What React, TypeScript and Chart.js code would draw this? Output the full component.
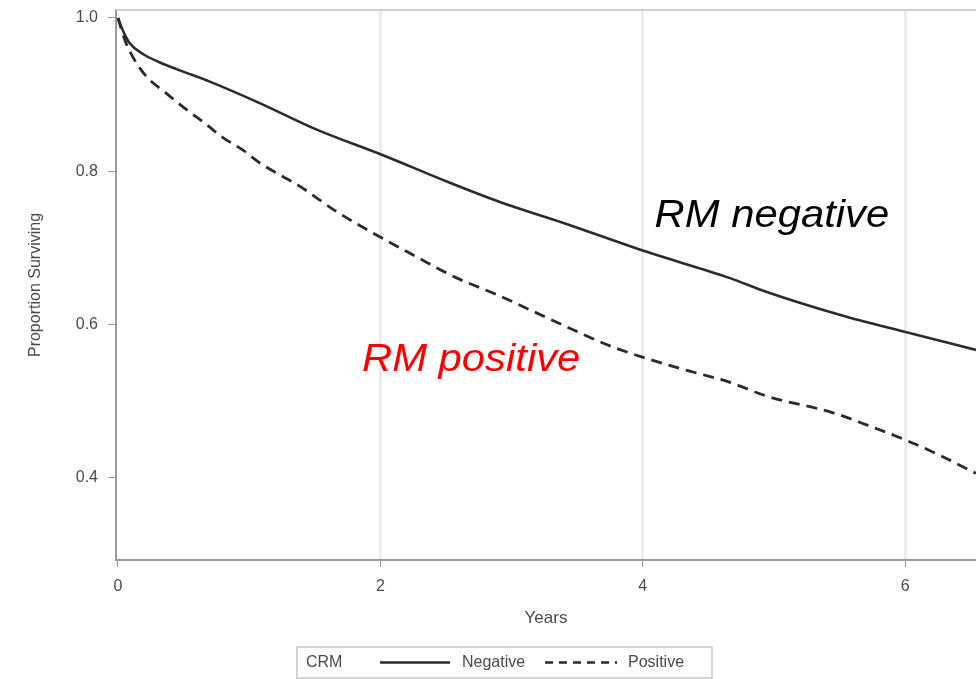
import React, { useEffect, useRef } from "react";
import { Chart, registerables } from "chart.js";

Chart.register(...registerables);

// ---- data ----
const negativeYears = [0, 0.02, 0.05, 0.09, 0.19, 0.32, 0.45, 0.7, 1.08, 1.52, 2.02, 2.53, 2.91, 3.39, 4.03, 4.66, 4.94, 5.5, 6.01, 6.54];
const negativeSurvival = [1.0, 0.991, 0.979, 0.967, 0.953, 0.942, 0.933, 0.917, 0.889, 0.854, 0.821, 0.785, 0.76, 0.733, 0.695, 0.661, 0.643, 0.613, 0.59, 0.567];

const positiveYears = [0, 0.053, 0.114, 0.22, 0.36, 0.51, 0.66, 0.8, 0.95, 1.08, 1.39, 1.67, 1.97, 2.28, 2.58, 2.89, 3.27, 3.77, 4.28, 4.66, 4.94, 5.45, 5.71, 6.01, 6.26, 6.54];
const positiveSurvival = [1.0, 0.971, 0.949, 0.923, 0.903, 0.882, 0.863, 0.844, 0.828, 0.811, 0.78, 0.747, 0.717, 0.688, 0.661, 0.639, 0.609, 0.571, 0.543, 0.525, 0.507, 0.485, 0.469, 0.449, 0.43, 0.406];

const xTickValues = [0, 2, 4, 6];
const yTickValues = [0.4, 0.6, 0.8, 1.0];
const seriesNames = ["Negative", "Positive"];
const legendTitle = "CRM";
const xAxisTitle = "Years";
const yAxisTitle = "Proportion Surviving";
const annotationTexts = ["RM negative", "RM positive"];
const annotationAnchors = [
  { x: 4.09, y: 0.7273 },
  { x: 1.86, y: 0.5395 },
];
const annotationColors = ["#000000", "#ff0000"];

const FONT = "'Liberation Sans', Arial, sans-serif";
const LINE_COLOR = "#2b2b2b";
const TEXT_COLOR = "#4a4a4a";

const overlayPlugin = {
  id: "overlay",
  afterDraw(chart: any) {
    const { ctx, chartArea, scales } = chart;
    ctx.save();
    // top frame line
    ctx.strokeStyle = "#cfcfcf";
    ctx.lineWidth = 2;
    ctx.beginPath();
    ctx.moveTo(chartArea.left, chartArea.top);
    ctx.lineTo(chartArea.right, chartArea.top);
    ctx.stroke();

    // annotations
    annotationTexts.forEach((txt, i) => {
      const px = scales.x.getPixelForValue(annotationAnchors[i].x);
      const py = scales.y.getPixelForValue(annotationAnchors[i].y);
      ctx.save();
      ctx.translate(px, py);
      ctx.scale(1.1, 1);
      ctx.font = `italic 38px ${FONT}`;
      ctx.fillStyle = annotationColors[i];
      ctx.textAlign = "left";
      ctx.textBaseline = "alphabetic";
      ctx.fillText(txt, 0, 0);
      ctx.restore();
    });

    // legend
    const bx = 297, by = 647, bw = 415, bh = 31;
    ctx.fillStyle = "#ffffff";
    ctx.fillRect(bx, by, bw, bh);
    ctx.strokeStyle = "#c8c8c8";
    ctx.lineWidth = 1.5;
    ctx.strokeRect(bx, by, bw, bh);
    const cy = by + bh / 2;
    ctx.font = `16px ${FONT}`;
    ctx.fillStyle = TEXT_COLOR;
    ctx.textBaseline = "middle";
    ctx.textAlign = "left";
    ctx.fillText(legendTitle, 306, cy);
    ctx.strokeStyle = LINE_COLOR;
    ctx.lineWidth = 2.5;
    ctx.beginPath();
    ctx.moveTo(380, cy);
    ctx.lineTo(450, cy);
    ctx.stroke();
    ctx.fillText(seriesNames[0], 462, cy);
    ctx.setLineDash([8, 6]);
    ctx.beginPath();
    ctx.moveTo(545, cy);
    ctx.lineTo(617, cy);
    ctx.stroke();
    ctx.setLineDash([]);
    ctx.fillText(seriesNames[1], 628, cy);
    ctx.restore();
  },
};

export default function App() {
  const ref = useRef<HTMLCanvasElement>(null);
  useEffect(() => {
    const chart = new Chart(ref.current as HTMLCanvasElement, {
      type: "line",
      data: {
        datasets: [
          {
            label: seriesNames[0],
            data: negativeYears.map((t, i) => ({ x: t, y: negativeSurvival[i] })),
            borderColor: LINE_COLOR,
            borderWidth: 2.6,
            pointRadius: 0,
            cubicInterpolationMode: "monotone",
          },
          {
            label: seriesNames[1],
            data: positiveYears.map((t, i) => ({ x: t, y: positiveSurvival[i] })),
            borderColor: LINE_COLOR,
            borderWidth: 2.8,
            borderDash: [11, 7],
            pointRadius: 0,
            cubicInterpolationMode: "monotone",
          },
        ],
      },
      options: {
        responsive: false,
        animation: false,
        layout: { padding: { left: 0, top: 10, right: 0, bottom: 0 } },
        plugins: { legend: { display: false }, tooltip: { enabled: false } },
        scales: {
          x: {
            type: "linear",
            min: -0.015,
            max: 6.54,
            afterBuildTicks: (s: any) => {
              s.ticks = xTickValues.map((v) => ({ value: v }));
            },
            afterFit: (s: any) => {
              s.height = 119;
              s.paddingLeft = 0;
              s.paddingRight = 0;
            },
            ticks: {
              color: TEXT_COLOR,
              font: { family: FONT, size: 16 },
              padding: 10,
              maxRotation: 0,
              callback: (v: any) => String(v),
            },
            grid: {
              color: (c: any) => (c.tick && c.tick.value === 0 ? "rgba(0,0,0,0)" : "#ececec"),
              lineWidth: 3,
              tickColor: "#9a9a9a",
              tickLength: 7,
              tickWidth: 1,
            },
            border: { display: true, color: "#9a9a9a", width: 2 },
            title: {
              display: true,
              text: xAxisTitle,
              color: TEXT_COLOR,
              font: { family: FONT, size: 17 },
              padding: { top: 0, bottom: 50 },
            },
          },
          y: {
            type: "linear",
            min: 0.293,
            max: 1.0104,
            afterBuildTicks: (s: any) => {
              s.ticks = yTickValues.map((v) => ({ value: v }));
            },
            afterFit: (s: any) => {
              s.width = 116;
              s.paddingTop = 0;
              s.paddingBottom = 0;
            },
            ticks: {
              color: TEXT_COLOR,
              font: { family: FONT, size: 16 },
              padding: 10,
              callback: (v: any) => Number(v).toFixed(1),
            },
            grid: {
              drawOnChartArea: false,
              drawTicks: true,
              tickColor: "#9a9a9a",
              tickLength: 8,
              tickWidth: 1,
            },
            border: { display: true, color: "#9a9a9a", width: 2 },
            title: {
              display: true,
              text: yAxisTitle,
              color: TEXT_COLOR,
              font: { family: FONT, size: 16 },
              padding: { top: 26, bottom: 0 },
            },
          },
        },
      },
      plugins: [overlayPlugin],
    } as any);
    return () => chart.destroy();
  }, []);
  return (
    <div style={{ position: "absolute", left: 0, top: 0, width: 976, height: 679, background: "#fff" }}>
      <canvas ref={ref} width={976} height={679} style={{ display: "block" }} />
    </div>
  );
}
